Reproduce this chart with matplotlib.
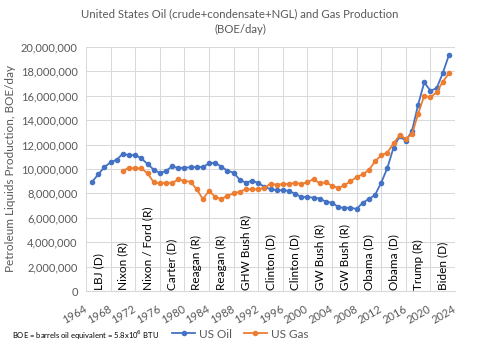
import matplotlib.pyplot as plt
import numpy as np
from matplotlib.ticker import FuncFormatter, MultipleLocator

plt.rcParams["font.family"] = ["Lato", "DejaVu Sans"]

# values in million BOE/day
oil_years = np.arange(1965, 2024)
oil = [
    8.96, 9.56, 10.16, 10.55, 10.77, 11.26, 11.12, 11.15, 10.87, 10.41,
    9.95, 9.67, 9.84, 10.22, 10.08, 10.11, 10.14, 10.16, 10.16, 10.46,
    10.52, 10.19, 9.86, 9.70, 9.12, 8.88, 9.04, 8.85, 8.55, 8.34,
    8.28, 8.25, 8.22, 7.95, 7.72, 7.70, 7.65, 7.58, 7.32, 7.24,
    6.89, 6.80, 6.83, 6.72, 7.24, 7.54, 7.87, 8.88, 10.08, 11.75,
    12.68, 12.30, 13.11, 15.27, 17.10, 16.42, 16.61, 17.84, 19.32,
]
gas_years = np.arange(1970, 2024)
gas = [
    9.84, 10.11, 10.06, 10.06, 9.64, 8.93, 8.82, 8.88, 8.85, 9.15,
    9.02, 8.96, 8.34, 7.54, 8.20, 7.73, 7.52, 7.81, 8.00, 8.14,
    8.34, 8.34, 8.34, 8.44, 8.80, 8.71, 8.77, 8.77, 8.88, 8.77,
    8.91, 9.18, 8.82, 8.91, 8.63, 8.44, 8.66, 8.99, 9.34, 9.56,
    9.92, 10.63, 11.12, 11.34, 12.11, 12.76, 12.49, 12.84, 14.51, 16.01,
    15.87, 16.29, 17.13, 17.84,
]
term_starts = np.arange(1964, 2024, 4)
presidents = [
    "LBJ (D)", "Nixon (R)", "Nixon / Ford (R)", "Carter (D)", "Reagan (R)",
    "Reagan (R)", "GHW Bush (R)", "Clinton (D)", "Clinton (D)", "GW Bush (R)",
    "GW Bush (R)", "Obama (D)", "Obama (D)", "Trump (R)", "Biden (D)",
]

GRAY = "#595959"

fig = plt.figure(figsize=(4.8, 3.48), dpi=100)
ax = fig.add_axes([86 / 480, 1 - 291 / 348, (455 - 86) / 480, (291 - 47) / 348])

ax.plot(oil_years, np.array(oil) * 1e6, color="#4472C4", marker="o",
        markersize=3, linewidth=1.3, label="US Oil")
ax.plot(gas_years, np.array(gas) * 1e6, color="#ED7D31", marker="o",
        markersize=3, linewidth=1.3, label="US Gas")

for x0, name in zip(term_starts, presidents):
    ax.text(x0 + 2, 0.12e6, name, rotation=90, ha="center", va="bottom",
            fontsize=8.5, color="black")

ax.set_xlim(1964, 2024)
ax.set_ylim(0, 20e6)
ax.xaxis.set_major_locator(MultipleLocator(4))
ax.yaxis.set_major_locator(MultipleLocator(2e6))
ax.yaxis.set_major_formatter(FuncFormatter(lambda v, p: f"{v:,.0f}"))
ax.grid(True, color="#D9D9D9", linewidth=0.75)
ax.set_axisbelow(True)
for s in ["top", "right", "left"]:
    ax.spines[s].set_visible(False)
ax.spines["bottom"].set_color("#D9D9D9")
ax.tick_params(length=0, colors=GRAY, labelsize=8)
ax.tick_params(axis="y", pad=6)
ax.tick_params(axis="x", pad=12)
for lab in ax.get_xticklabels():
    lab.set_rotation(30)
    lab.set_ha("right")
    lab.set_va("center")
    lab.set_rotation_mode("anchor")

ax.set_ylabel("Petroleum Liquids Production, BOE/day", color=GRAY, fontsize=8.5)
ax.yaxis.set_label_coords(-0.19, 0.5)
fig.text(0.5, 1 - 22 / 348, "United States Oil (crude+condensate+NGL) and Gas Production\n(BOE/day)",
         ha="center", va="center", fontsize=8.2, color=GRAY, linespacing=1.5)
fig.text(12 / 480, 1 - 335 / 348, "BOE = barrels oil equivalent = 5.8x10$^6$ BTU",
         ha="left", va="center", fontsize=5.5, color="black")
fig.legend(loc="center", bbox_to_anchor=(0.5, 1 - 334 / 348), ncol=2, frameon=False,
           fontsize=8.5, labelcolor=GRAY, handlelength=2, columnspacing=1,
           handletextpad=0.3)

fig.savefig("out.png", dpi=100)
